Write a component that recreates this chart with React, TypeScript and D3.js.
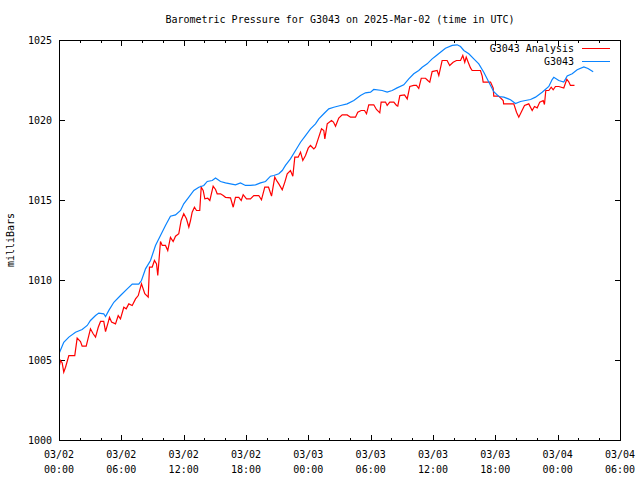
import React from "react";
import * as d3 from "d3";

// hours since 2025-03-02 00:00 UTC
const stationHours = [0, 0.41, 0.9, 1.54, 2.18, 2.67, 2.98, 3.47, 3.78, 4.26, 4.43, 4.75, 5.23, 5.87, 6.52, 7.0, 7.63, 7.89, 8.28, 8.76, 9.24, 9.72, 10.2, 10.68, 11.17, 11.65, 11.96, 12.45, 12.93, 13.41, 13.89, 14.22, 14.7, 15.02, 15.5, 15.98, 16.46, 16.94, 17.42, 17.9, 18.38, 18.87, 19.35, 19.83, 20.31, 20.63, 21.11, 21.44, 21.75, 22.23, 22.72, 23.2, 23.68, 24.16, 24.64, 24.96, 25.44, 25.92, 26.4, 27.05, 27.69, 28.33, 28.97, 29.45, 29.94, 30.25, 31.06, 31.54, 32.02, 32.5, 33.14, 33.62, 34.1, 34.58, 34.91, 35.39, 35.87, 36.19, 36.67, 37.15, 37.8, 38.28, 38.6, 38.92, 39.4, 39.88, 40.36, 40.84, 41.32, 41.8, 42.28, 42.77, 43.41, 43.89, 44.37, 44.85, 45.34, 45.82, 46.46, 47.1, 47.42, 47.58, 48.06, 48.54, 48.87, 49.35, 49.83, 50.47, 50.87, 51.37];
const stationValues = [1005.5, 1006.14, 1006.46, 1006.77, 1006.94, 1007.19, 1007.5, 1007.81, 1007.96, 1007.92, 1007.75, 1008.13, 1008.64, 1009.06, 1009.48, 1009.77, 1009.77, 1010.0, 1010.73, 1011.25, 1012.19, 1012.81, 1013.44, 1014.02, 1014.1, 1014.375, 1014.79, 1015.21, 1015.625, 1015.83, 1015.94, 1016.19, 1016.25, 1016.4, 1016.19, 1016.1, 1016.04, 1015.98, 1016.1, 1015.94, 1015.94, 1015.98, 1016.1, 1016.19, 1016.52, 1016.56, 1016.67, 1016.875, 1017.19, 1017.6, 1018.125, 1018.64, 1019.06, 1019.48, 1019.79, 1020.1, 1020.42, 1020.73, 1020.83, 1020.94, 1021.04, 1021.25, 1021.56, 1021.73, 1021.77, 1021.94, 1021.875, 1021.77, 1021.875, 1022.04, 1022.23, 1022.6, 1022.92, 1023.125, 1023.33, 1023.54, 1023.85, 1024.02, 1024.27, 1024.52, 1024.69, 1024.73, 1024.625, 1024.375, 1024.17, 1023.85, 1023.54, 1023.02, 1022.4, 1021.8, 1021.5, 1021.46, 1021.3, 1021.06, 1021.19, 1021.25, 1021.31, 1021.46, 1021.77, 1022.125, 1022.56, 1022.7, 1022.5, 1022.4, 1022.79, 1022.92, 1023.17, 1023.35, 1023.25, 1023.04];

const analysisHours = [0, 0.1, 0.26, 0.41, 0.58, 0.9, 1.47, 1.7, 2.02, 2.18, 2.57, 2.82, 2.98, 3.24, 3.47, 3.73, 3.95, 4.26, 4.43, 4.69, 4.81, 5.01, 5.39, 5.65, 5.87, 6.19, 6.42, 6.67, 7.0, 7.32, 7.58, 7.89, 8.21, 8.54, 8.66, 8.92, 9.14, 9.34, 9.46, 9.72, 9.89, 10.2, 10.42, 10.68, 10.94, 11.17, 11.48, 11.71, 11.96, 12.22, 12.45, 12.61, 12.77, 12.99, 13.19, 13.5, 13.64, 13.83, 13.99, 14.27, 14.47, 14.79, 15.02, 15.18, 15.5, 15.76, 15.98, 16.46, 16.72, 16.94, 17.26, 17.49, 17.68, 18.0, 18.38, 18.7, 19.18, 19.44, 19.76, 20.12, 20.41, 20.72, 20.95, 21.11, 21.44, 21.69, 21.92, 22.23, 22.46, 22.65, 22.97, 23.2, 23.42, 23.68, 23.94, 24.16, 24.48, 24.64, 24.9, 25.22, 25.44, 25.54, 25.77, 26.18, 26.37, 26.57, 26.88, 27.21, 27.69, 28.01, 28.49, 28.71, 29.04, 29.36, 29.55, 29.77, 30.25, 30.51, 30.83, 30.96, 31.38, 31.54, 31.79, 32.18, 32.44, 32.56, 32.76, 33.21, 33.47, 33.72, 34.1, 34.36, 34.58, 34.82, 35.23, 35.45, 35.64, 35.87, 36.35, 36.51, 36.83, 37.31, 37.56, 37.89, 38.21, 38.6, 38.82, 39.01, 39.15, 39.34, 39.56, 39.72, 40.52, 40.69, 40.78, 41.49, 41.75, 41.8, 42.28, 42.71, 42.75, 43.73, 43.99, 44.21, 44.44, 44.76, 45.17, 45.5, 45.72, 45.98, 46.23, 46.56, 46.68, 46.81, 47.1, 47.33, 47.52, 47.74, 48.06, 48.54, 48.83, 49.02, 49.18, 49.57];
const analysisValues = [1004.69, 1005.0, 1004.85, 1004.27, 1004.58, 1005.31, 1005.31, 1006.4, 1006.19, 1005.9, 1005.9, 1006.56, 1006.98, 1006.67, 1006.46, 1007.08, 1007.44, 1007.44, 1006.81, 1007.4, 1007.7, 1007.4, 1007.29, 1007.81, 1007.6, 1008.33, 1008.23, 1008.54, 1008.44, 1008.85, 1009.06, 1009.79, 1009.17, 1008.96, 1010.83, 1010.83, 1011.25, 1011.04, 1010.31, 1012.44, 1012.19, 1012.19, 1011.875, 1012.7, 1012.44, 1012.77, 1012.92, 1013.75, 1014.17, 1013.86, 1013.33, 1013.75, 1014.27, 1014.58, 1014.375, 1014.375, 1015.83, 1015.625, 1015.1, 1015.14, 1015.0, 1015.9, 1015.69, 1015.42, 1015.42, 1015.31, 1015.2, 1015.17, 1014.58, 1015.2, 1015.2, 1015.0, 1015.36, 1015.1, 1015.1, 1015.31, 1015.31, 1015.04, 1015.83, 1015.83, 1015.27, 1016.46, 1016.19, 1016.04, 1015.67, 1016.15, 1016.67, 1016.875, 1016.52, 1017.71, 1017.71, 1018.02, 1017.5, 1017.81, 1018.27, 1018.44, 1018.23, 1018.33, 1018.85, 1019.48, 1019.375, 1018.85, 1019.79, 1020.0, 1019.9, 1019.64, 1020.15, 1020.35, 1020.35, 1020.21, 1020.21, 1020.52, 1020.625, 1020.625, 1020.42, 1020.98, 1020.98, 1020.69, 1020.48, 1021.15, 1021.15, 1020.94, 1021.15, 1021.15, 1020.94, 1020.9, 1021.56, 1021.6, 1021.35, 1022.125, 1022.19, 1022.19, 1022.0, 1022.64, 1022.64, 1022.5, 1022.4, 1023.06, 1023.125, 1022.81, 1023.75, 1023.75, 1023.44, 1023.64, 1023.75, 1023.75, 1024.06, 1023.64, 1023.96, 1023.64, 1023.29, 1023.125, 1023.125, 1022.77, 1022.4, 1022.4, 1022.02, 1021.52, 1021.52, 1021.25, 1021.04, 1021.04, 1020.52, 1020.21, 1020.52, 1020.94, 1021.04, 1020.625, 1020.875, 1020.79, 1021.15, 1021.25, 1021.0, 1021.875, 1021.875, 1022.08, 1021.92, 1022.125, 1022.125, 1022.03, 1022.58, 1022.42, 1022.19, 1022.19];

const yTicks = [1000, 1005, 1010, 1015, 1020, 1025];
const xTickHours = [0, 6, 12, 18, 24, 30, 36, 42, 48, 54];
const xTickDates = ["03/02", "03/02", "03/02", "03/02", "03/03", "03/03", "03/03", "03/03", "03/04", "03/04"];
const xTickTimes = ["00:00", "06:00", "12:00", "18:00", "00:00", "06:00", "12:00", "18:00", "00:00", "06:00"];
const seriesNames = ["G3043 Analysis", "G3043"];
const seriesColors = ["#ff0000", "#0a84ff"];

const W = 640, H = 480;
const L = 59, R = 620, T = 40, B = 440;
const FONT = "'DejaVu Sans Mono', 'Liberation Mono', monospace";

export default function App() {
  const x = d3.scaleLinear().domain([0, 54]).range([L, R]);
  const y = d3.scaleLinear().domain([1000, 1025]).range([B, T]);
  const line = d3
    .line<[number, number]>()
    .x((d) => x(d[0]) + 0.5)
    .y((d) => y(d[1]) + 0.5);
  const analysis = analysisHours.map((h, i) => [h, analysisValues[i]] as [number, number]);
  const station = stationHours.map((h, i) => [h, stationValues[i]] as [number, number]);
  const minorHours = d3.range(0, 55, 2).filter((h) => h % 6 !== 0);

  return (
    <svg width={W} height={H} style={{ position: "absolute", left: 0, top: 0, background: "#fff" }} fontFamily={FONT} fontSize={10}>
      <rect x={0} y={0} width={W} height={H} fill="#fff" />
      <text x={340} y={23} textAnchor="middle" fill="#000">
        Barometric Pressure for G3043 on 2025-Mar-02 (time in UTC)
      </text>
      <text transform="translate(14,240) rotate(-90)" textAnchor="middle" fill="#000">
        milliBars
      </text>
      <g shapeRendering="crispEdges" stroke="#000" strokeWidth={1}>
        {yTicks.map((v) => (
          <g key={v}>
            <line x1={L} x2={L + 6} y1={y(v) + 0.5} y2={y(v) + 0.5} />
            <line x1={R + 1} x2={R - 5} y1={y(v) + 0.5} y2={y(v) + 0.5} />
          </g>
        ))}
        {xTickHours.map((h) => (
          <g key={h}>
            <line x1={x(h) + 0.5} x2={x(h) + 0.5} y1={B + 1} y2={B - 5} />
            <line x1={x(h) + 0.5} x2={x(h) + 0.5} y1={T} y2={T + 6} />
          </g>
        ))}
        {minorHours.map((h) => (
          <g key={"m" + h}>
            <line x1={Math.round(x(h)) + 0.5} x2={Math.round(x(h)) + 0.5} y1={B + 1} y2={B - 2} />
            <line x1={Math.round(x(h)) + 0.5} x2={Math.round(x(h)) + 0.5} y1={T} y2={T + 3} />
          </g>
        ))}
      </g>
      {yTicks.map((v) => (
        <text key={"yl" + v} x={L - 7} y={y(v) + 4} textAnchor="end" fill="#000">
          {v}
        </text>
      ))}
      {xTickHours.map((h, i) => (
        <g key={"xl" + h}>
          <text x={x(h)} y={B + 18} textAnchor="middle" fill="#000">
            {xTickDates[i]}
          </text>
          <text x={x(h)} y={B + 33} textAnchor="middle" fill="#000">
            {xTickTimes[i]}
          </text>
        </g>
      ))}
      <path d={line(analysis) || ""} fill="none" stroke={seriesColors[0]} strokeWidth={1.2} />
      <path d={line(station) || ""} fill="none" stroke={seriesColors[1]} strokeWidth={1.2} />
      {seriesNames.map((n, i) => (
        <g key={n}>
          <text x={574} y={52 + i * 13} textAnchor="end" fill="#000">
            {n}
          </text>
          <line x1={582} x2={610} y1={48.5 + i * 13} y2={48.5 + i * 13} stroke={seriesColors[i]} strokeWidth={1} shapeRendering="crispEdges" />
        </g>
      ))}
      <rect x={L + 0.5} y={T + 0.5} width={R - L} height={B - T} fill="none" stroke="#000" strokeWidth={1} shapeRendering="crispEdges" />
    </svg>
  );
}
